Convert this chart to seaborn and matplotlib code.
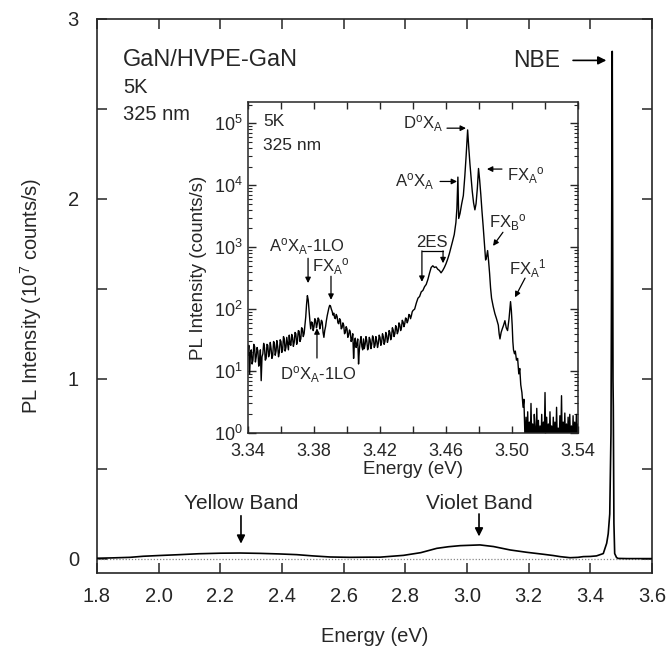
import numpy as np
import pandas as pd
import matplotlib
matplotlib.use("Agg")
import matplotlib.pyplot as plt
import seaborn as sns

# ---------------- data ----------------
main_energy = [1.80, 1.85, 1.907, 1.95, 2.00, 2.069, 2.13, 2.20, 2.264, 2.33, 2.39, 2.448,
               2.50, 2.556, 2.62, 2.686, 2.718, 2.794, 2.85, 2.902, 2.94, 2.978, 3.042,
               3.086, 3.140, 3.194, 3.248, 3.280, 3.302, 3.334, 3.360, 3.377, 3.40, 3.42,
               3.442, 3.453, 3.458, 3.463, 3.467, 3.469, 3.471, 3.4735, 3.4745, 3.4765,
               3.479, 3.485, 3.49, 3.52, 3.56, 3.60]
main_intensity = [0.004, 0.006, 0.009, 0.015, 0.019, 0.024, 0.029, 0.032, 0.033, 0.031,
                  0.028, 0.024, 0.017, 0.011, 0.009, 0.010, 0.010, 0.020, 0.035, 0.059,
                  0.068, 0.074, 0.078, 0.069, 0.050, 0.037, 0.026, 0.019, 0.013, 0.007,
                  0.009, 0.013, 0.014, 0.017, 0.030, 0.087, 0.14, 0.25, 0.70, 1.6, 2.82,
                  0.99, 0.85, 0.20, 0.030, 0.008, 0.003, 0.002, 0.002, 0.002]

inset_energy = [
    3.3400, 3.3405, 3.3410, 3.3415, 3.3420, 3.3425, 3.3430, 3.3435, 3.3440, 3.3445,
    3.3450, 3.3455, 3.3460, 3.3465, 3.3470, 3.3475, 3.3480, 3.3485, 3.3490, 3.3495,
    3.3500, 3.3505, 3.3510, 3.3515, 3.3520, 3.3525, 3.3530, 3.3535, 3.3540, 3.3545,
    3.3550, 3.3555, 3.3560, 3.3565, 3.3570, 3.3575, 3.3580, 3.3585, 3.3590, 3.3595,
    3.3600, 3.3605, 3.3610, 3.3615, 3.3620, 3.3625, 3.3630, 3.3635, 3.3640, 3.3645,
    3.3650, 3.3655, 3.3660, 3.3665, 3.3670, 3.3675, 3.3680, 3.3685, 3.3690, 3.3695,
    3.3700, 3.3705, 3.3710, 3.3715, 3.3720, 3.3725, 3.3730, 3.3735, 3.3740, 3.3745,
    3.3750, 3.3755, 3.3760, 3.3765, 3.3770, 3.3775, 3.3780, 3.3785, 3.3790, 3.3795,
    3.3800, 3.3805, 3.3810, 3.3815, 3.3820, 3.3825, 3.3830, 3.3835, 3.3840, 3.3845,
    3.3850, 3.3855, 3.3860, 3.3865, 3.3870, 3.3875, 3.3880, 3.3885, 3.3890, 3.3895,
    3.3900, 3.3905, 3.3910, 3.3915, 3.3920, 3.3925, 3.3930, 3.3935, 3.3940, 3.3945,
    3.3950, 3.3955, 3.3960, 3.3965, 3.3970, 3.3975, 3.3980, 3.3985, 3.3990, 3.3995,
    3.4000, 3.4005, 3.4010, 3.4015, 3.4020, 3.4025, 3.4030, 3.4035, 3.4040, 3.4045,
    3.4050, 3.4055, 3.4060, 3.4065, 3.4070, 3.4075, 3.4080, 3.4085, 3.4090, 3.4095,
    3.4100, 3.4105, 3.4110, 3.4115, 3.4120, 3.4125, 3.4130, 3.4135, 3.4140, 3.4145,
    3.4150, 3.4155, 3.4160, 3.4165, 3.4170, 3.4175, 3.4180, 3.4185, 3.4190, 3.4195,
    3.4200, 3.4205, 3.4210, 3.4215, 3.4220, 3.4225, 3.4230, 3.4235, 3.4240, 3.4245,
    3.4250, 3.4255, 3.4260, 3.4265, 3.4270, 3.4275, 3.4280, 3.4285, 3.4290, 3.4295,
    3.4300, 3.4305, 3.4310, 3.4315, 3.4320, 3.4325, 3.4330, 3.4335, 3.4340, 3.4345,
    3.4350, 3.4355, 3.4360, 3.4365, 3.4370, 3.4375, 3.4380, 3.4385, 3.4390, 3.4395,
    3.440, 3.441, 3.442, 3.443, 3.444, 3.445, 3.446, 3.447, 3.448, 3.449,
    3.450, 3.451, 3.452, 3.453, 3.454, 3.455, 3.456, 3.457, 3.458, 3.459,
    3.460, 3.461, 3.462, 3.463, 3.464, 3.465,
    3.4660, 3.4666, 3.4672, 3.4677, 3.4685, 3.4695, 3.4705, 3.4714, 3.4722, 3.4731,
    3.4738, 3.4745, 3.4752, 3.4759, 3.4767, 3.4775, 3.4782, 3.4790, 3.4797, 3.4804,
    3.4811, 3.4818, 3.4825, 3.4832, 3.4840, 3.4846, 3.4852, 3.4858, 3.4864, 3.4870,
    3.4876, 3.4886, 3.4896, 3.4906, 3.4917, 3.4922, 3.4927, 3.4934, 3.4941, 3.4949,
    3.4957, 3.4965, 3.4973, 3.4982, 3.4991, 3.4996, 3.5001, 3.5005, 3.5009, 3.5015,
    3.5020, 3.5027, 3.5034, 3.5041, 3.5047, 3.5053, 3.5060, 3.5067, 3.5072,
    3.5080, 3.5085, 3.5090, 3.5095, 3.5100, 3.5105, 3.5110, 3.5115, 3.5120, 3.5125,
    3.5130, 3.5135, 3.5140, 3.5145, 3.5150, 3.5155, 3.5160, 3.5165, 3.5170, 3.5175,
    3.5180, 3.5185, 3.5190, 3.5195, 3.5200, 3.5205, 3.5210, 3.5215, 3.5220, 3.5225,
    3.5230, 3.5235, 3.5240, 3.5245, 3.5250, 3.5255, 3.5260, 3.5265, 3.5270, 3.5275,
    3.5280, 3.5285, 3.5290, 3.5295, 3.5300, 3.5305, 3.5310, 3.5315, 3.5320, 3.5325,
    3.5330, 3.5335, 3.5340, 3.5345, 3.5350, 3.5355, 3.5360, 3.5365, 3.5370, 3.5375,
    3.5380, 3.5385, 3.5390, 3.5395, 3.5400]
inset_counts = [
    18, 26, 9, 20, 22, 13, 15, 27, 25, 14,
    17, 24, 21, 12, 14, 22, 7, 17, 19, 28,
    24, 15, 16, 27, 26, 17, 19, 29, 23, 16,
    18, 30, 28, 18, 21, 31, 25, 17, 20, 32,
    30, 20, 22, 36, 33, 21, 24, 35, 28, 22,
    38, 27, 26, 39, 35, 25, 29, 42, 40, 27,
    31, 45, 44, 30, 33, 50, 48, 36, 40, 55,
    75, 120, 165, 140, 95, 65, 48, 62, 60, 45,
    52, 70, 66, 50, 58, 72, 68, 48, 55, 66,
    62, 42, 35, 45, 52, 65, 78, 90, 104, 115,
    112, 100, 92, 80, 86, 72, 70, 82, 76, 60,
    58, 70, 66, 48, 50, 60, 55, 40, 42, 52,
    48, 35, 38, 46, 43, 30, 33, 40, 16, 28,
    34, 24, 27, 33, 13, 22, 30, 36, 25, 22,
    33, 23, 27, 36, 31, 22, 24, 35, 32, 23,
    27, 37, 34, 24, 26, 36, 31, 24, 28, 38,
    35, 26, 29, 40, 36, 27, 30, 42, 38, 29,
    33, 45, 42, 32, 36, 50, 46, 36, 40, 54,
    50, 40, 44, 60, 56, 45, 50, 66, 62, 52,
    58, 72, 70, 60, 66, 82, 80, 70, 78, 90,
    95, 100, 125, 150, 160, 190, 200, 230, 250, 300,
    380, 470, 500, 470, 480, 440, 420, 385, 420, 470,
    540, 640, 780, 980, 1250, 1600,
    2500, 4200, 13500, 2900, 3500, 5000, 6800, 14000, 30000, 78000,
    40000, 22000, 13000, 8000, 5200, 4000, 5000, 9000, 18600, 12000,
    7000, 3800, 2200, 1200, 620, 700, 880, 600, 380, 220,
    150, 110, 85, 70, 55, 40, 33, 42, 48, 55,
    65, 50, 45, 70, 132, 95, 55, 30, 22, 19,
    21, 15, 16, 9, 11, 6, 4.5, 2.6, 3.5,
    0.6, 1.8, 0.5, 2.2, 0.6, 1.5, 0.5, 3.0, 0.6, 1.4,
    0.5, 2.0, 1.2, 0.5, 2.5, 0.6, 1.6, 0.5, 1.3, 0.6,
    2.0, 0.5, 1.5, 0.6, 4.5, 0.5, 1.8, 0.6, 1.4, 0.5,
    2.2, 0.6, 1.3, 0.5, 1.8, 0.6, 1.5, 0.5, 2.6, 0.6,
    1.2, 0.5, 1.9, 0.6, 4.0, 0.5, 1.5, 0.6, 2.1, 0.5,
    1.4, 0.6, 1.8, 0.5, 2.0, 0.6, 1.3, 0.5, 1.9, 0.6,
    1.5, 0.5, 2.0, 0.6, 1.4]

main_xticks = [1.8, 2.0, 2.2, 2.4, 2.6, 2.8, 3.0, 3.2, 3.4, 3.6]
main_yticks = [0, 0.5, 1, 1.5, 2, 2.5, 3]
main_yticklabels = ["0", "", "1", "", "2", "", "3"]
inset_xticks = [3.34, 3.38, 3.42, 3.46, 3.50, 3.54]

# ---------------- style ----------------
sns.set_style("ticks")
plt.rcParams["font.family"] = ["Liberation Sans", "DejaVu Sans"]
plt.rcParams["mathtext.fontset"] = "custom"
plt.rcParams["mathtext.rm"] = "Liberation Sans"
plt.rcParams["mathtext.it"] = "Liberation Sans:italic"
plt.rcParams["mathtext.bf"] = "Liberation Sans:bold"

fig = plt.figure(figsize=(6.67, 6.46), dpi=100)
ax = fig.add_axes([0.1454, 0.1130, 0.8321, 0.8576])

main_df = pd.DataFrame({"Energy": main_energy, "Intensity": main_intensity})
ax.axhline(0, color="#888888", ls=(0, (1, 1.5)), lw=0.9, zorder=1)
sns.lineplot(data=main_df, x="Energy", y="Intensity", ax=ax, color="black",
             lw=1.2, estimator=None, sort=False, zorder=3)
ax.set_xlim(1.8, 3.6)
ax.set_ylim(-0.078, 3.0)
ax.set_xticks(main_xticks)
ax.set_xticklabels([f"{v:.1f}" for v in main_xticks])
ax.set_yticks(main_yticks)
ax.set_yticklabels(main_yticklabels)
ax.tick_params(direction="in", length=7, width=1.1, top=True, right=True,
               labelsize=14.5)
ax.tick_params(axis="x", pad=10)
ax.tick_params(axis="y", pad=13)
for s in ax.spines.values():
    s.set_linewidth(1.2)
ax.set_xlabel("Energy (eV)", fontsize=14.5, labelpad=15)
ax.set_ylabel(r"PL Intensity (10$^7$ counts/s)", fontsize=14.5, labelpad=17)

ax.text(1.884, 2.77, "GaN/HVPE-GaN", fontsize=17, va="center", ha="left")
ax.text(1.884, 2.62, "5K", fontsize=14.5, va="center", ha="left")
ax.text(1.884, 2.47, "325 nm", fontsize=14.5, va="center", ha="left")
ax.text(3.227, 2.77, "NBE", fontsize=16.5, va="center", ha="center")
aprops = dict(arrowstyle="-|>", color="black", lw=1.2, mutation_scale=12,
              shrinkA=0, shrinkB=0)
ax.annotate("", xy=(3.452, 2.77), xytext=(3.344, 2.77), arrowprops=aprops)
ax.text(2.267, 0.307, "Yellow Band", fontsize=15, ha="center", va="center")
ax.annotate("", xy=(2.267, 0.085), xytext=(2.267, 0.24), arrowprops=aprops)
ax.text(3.039, 0.307, "Violet Band", fontsize=15, ha="center", va="center")
ax.annotate("", xy=(3.039, 0.125), xytext=(3.039, 0.25), arrowprops=aprops)

# ---------------- inset ----------------
ins = fig.add_axes([0.3718, 0.3297, 0.4948, 0.5124])
ins.set_yscale("log")
inset_df = pd.DataFrame({"Energy": inset_energy, "Counts": inset_counts})
sns.lineplot(data=inset_df, x="Energy", y="Counts", ax=ins, color="black",
             lw=1.0, estimator=None, sort=False)
ins.set_xlim(3.34, 3.54)
ins.set_ylim(1, 2.2e5)
ins.set_xticks(inset_xticks)
ins.set_xticklabels([f"{v:.2f}" for v in inset_xticks])
ins.set_xticks([3.36, 3.40, 3.44, 3.48, 3.52], minor=True)
ins.tick_params(which="major", direction="in", length=6, width=1.0, top=True,
                right=True, labelsize=13)
ins.tick_params(which="minor", direction="in", length=3, width=0.8, top=True,
                right=True)
ins.tick_params(axis="x", which="minor", length=5, width=1.0)
ins.tick_params(axis="x", which="major", pad=7, length=5)
ins.tick_params(axis="y", which="major", pad=4)
for s in ins.spines.values():
    s.set_linewidth(1.1)
ins.set_xlabel("Energy (eV)", fontsize=13.5, labelpad=1)
ins.set_ylabel("PL Intensity (counts/s)", fontsize=13.5, labelpad=5)

ins.text(0.045, 0.94, "5K", transform=ins.transAxes, fontsize=12.5, va="center")
ins.text(0.045, 0.87, "325 nm", transform=ins.transAxes, fontsize=12.5, va="center")

lab = 12
sp = dict(arrowstyle="-|>", color="black", lw=0.9, mutation_scale=8,
          shrinkA=0, shrinkB=0)
D0 = r"D$^{\mathrm{o}}$X$_{\mathrm{A}}$"
A0 = r"A$^{\mathrm{o}}$X$_{\mathrm{A}}$"
FXA0 = r"FX$_{\mathrm{A}}$$^{\mathrm{o}}$"
FXB0 = r"FX$_{\mathrm{B}}$$^{\mathrm{o}}$"
FXA1 = r"FX$_{\mathrm{A}}$$^{1}$"

ins.text(3.446, 10**5.0, D0, fontsize=lab, ha="center", va="center")
ins.annotate("", xy=(3.4721, 10**4.92), xytext=(3.4606, 10**4.92), arrowprops=sp)
ins.text(3.4412, 10**4.05, A0, fontsize=lab, ha="center", va="center")
ins.annotate("", xy=(3.4667, 10**4.06), xytext=(3.4564, 10**4.06), arrowprops=sp)
ins.text(3.5085, 10**4.16, FXA0, fontsize=lab, ha="center", va="center")
ins.annotate("", xy=(3.4848, 10**4.26), xytext=(3.4939, 10**4.26), arrowprops=sp)
ins.text(3.4976, 10**3.40, FXB0, fontsize=lab, ha="center", va="center")
ins.annotate("", xy=(3.4885, 10**3.02), xytext=(3.4945, 10**3.24), arrowprops=sp)
ins.text(3.5097, 10**2.66, FXA1, fontsize=lab, ha="center", va="center")
ins.annotate("", xy=(3.5018, 10**2.19), xytext=(3.5079, 10**2.5), arrowprops=sp)

ins.text(3.4515, 10**3.08, "2ES", fontsize=lab, ha="center", va="center")
ins.plot([3.4454, 3.4582], [10**2.94, 10**2.94], color="black", lw=0.9)
ins.annotate("", xy=(3.4454, 10**2.44), xytext=(3.4454, 10**2.94), arrowprops=sp)
ins.annotate("", xy=(3.4582, 10**2.74), xytext=(3.4582, 10**2.94), arrowprops=sp)

ins.text(3.3758, 10**3.0, A0 + "-1LO", fontsize=lab, ha="center", va="center")
ins.annotate("", xy=(3.3764, 10**2.42), xytext=(3.3764, 10**2.82), arrowprops=sp)
ins.text(3.3903, 10**2.69, FXA0, fontsize=lab, ha="center", va="center")
ins.annotate("", xy=(3.3903, 10**2.15), xytext=(3.3903, 10**2.53), arrowprops=sp)
ins.text(3.3824, 10**0.94, D0 + "-1LO", fontsize=lab, ha="center", va="center")
ins.annotate("", xy=(3.3818, 10**1.69), xytext=(3.3818, 10**1.21), arrowprops=sp)

fig.savefig("out.png", dpi=100)
